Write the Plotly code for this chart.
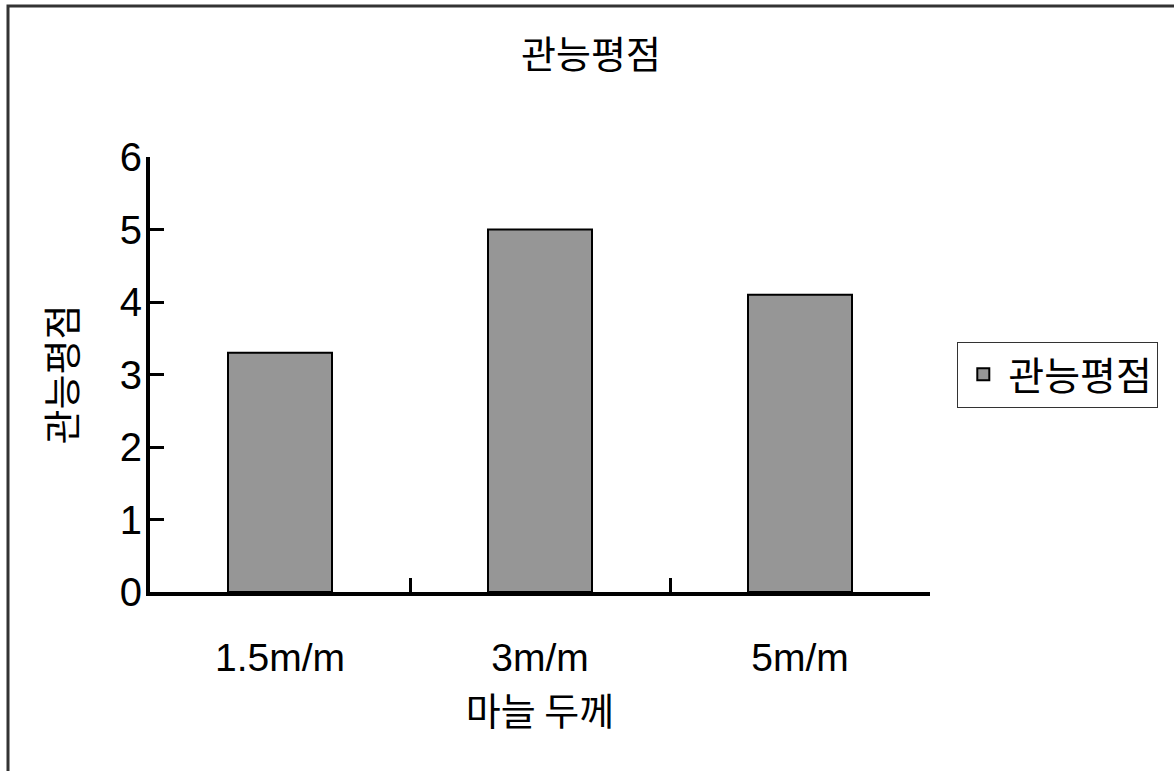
import plotly.graph_objects as go

# Sensory evaluation score by garlic slice thickness
categories = ["1.5m/m", "3m/m", "5m/m"]
scores = [3.3, 5.0, 4.1]
series_name = "관능평점"
y_ticks = [0, 1, 2, 3, 4, 5, 6]

FONT = "Liberation Sans, Arial, Noto Sans CJK KR, sans-serif"
KFONT = "Noto Sans CJK KR, sans-serif"

fig = go.Figure()
fig.add_trace(go.Bar(
    x=categories,
    y=scores,
    name=series_name,
    width=0.4,
    marker=dict(color="#969696", line=dict(color="#000000", width=2)),
    showlegend=True,
))

fig.update_layout(
    width=1174,
    height=771,
    paper_bgcolor="white",
    plot_bgcolor="white",
    margin=dict(l=150, r=244, t=157, b=179),
    font=dict(family=FONT, color="#000000", size=38),
    title=dict(
        text="관능평점",
        x=591 / 1174,
        xanchor="center",
        y=1 - 55 / 771,
        yanchor="middle",
        font=dict(size=38, family=KFONT),
    ),
    legend=dict(
        x=1.035,
        xanchor="left",
        y=0.5,
        yanchor="middle",
        bordercolor="#333333",
        borderwidth=1,
        bgcolor="white",
        font=dict(size=39, family=KFONT),
        itemwidth=40,
    ),
    bargap=0.6,
)

fig.update_xaxes(
    type="category",
    showline=True,
    linecolor="#000000",
    linewidth=4,
    ticks="inside",
    tickson="boundaries",
    ticklen=14,
    tickwidth=3,
    tickcolor="#000000",
    tickfont=dict(size=39, family=FONT),
    ticklabelstandoff=28,
    showgrid=False,
    zeroline=False,
    title=dict(text="마늘 두께", font=dict(size=38, family=KFONT), standoff=22),
)

fig.update_yaxes(
    range=[0, 6],
    tickvals=y_ticks,
    showline=True,
    linecolor="#000000",
    linewidth=4,
    ticks="inside",
    ticklen=14,
    tickwidth=3,
    tickcolor="#000000",
    tickfont=dict(size=40, family=FONT),
    ticklabelstandoff=-4,
    showgrid=False,
    zeroline=False,
    title=dict(text="관능평점", font=dict(size=38, family=KFONT), standoff=32),
)

# Outer chart frame
fig.add_shape(
    type="rect",
    xref="paper", yref="paper",
    x0=(8 - 150) / 780, x1=2.0,
    y0=-1.0, y1=(592 - 6) / 435,
    line=dict(color="#333333", width=3),
    fillcolor="rgba(0,0,0,0)",
    layer="below",
)

fig.write_html("out.html")
